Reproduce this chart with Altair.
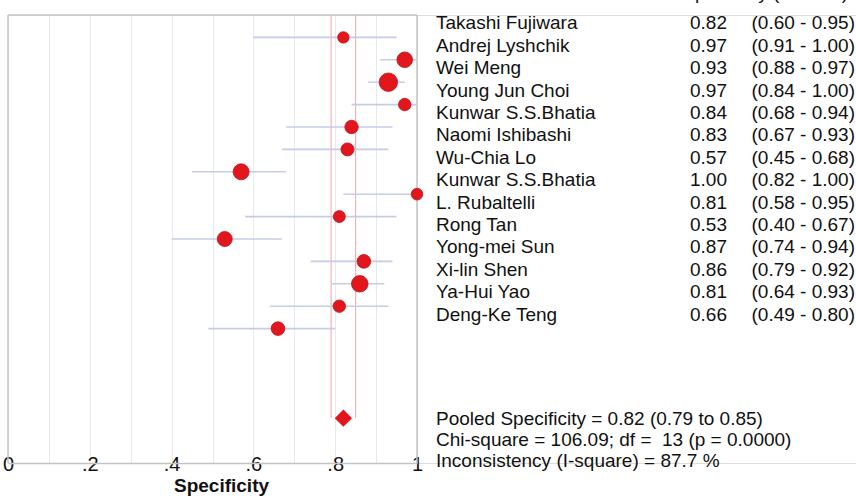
import altair as alt
import pandas as pd

# ---------------- data ----------------
studies = ["Takashi Fujiwara", "Andrej Lyshchik", "Wei Meng", "Young Jun Choi",
           "Kunwar S.S.Bhatia", "Naomi Ishibashi", "Wu-Chia Lo", "Kunwar S.S.Bhatia",
           "L. Rubaltelli", "Rong Tan", "Yong-mei Sun", "Xi-lin Shen", "Ya-Hui Yao",
           "Deng-Ke Teng"]
spec = [0.82, 0.97, 0.93, 0.97, 0.84, 0.83, 0.57, 1.00, 0.81, 0.53, 0.87, 0.86, 0.81, 0.66]
ci_low = [0.60, 0.91, 0.88, 0.84, 0.68, 0.67, 0.45, 0.82, 0.58, 0.40, 0.74, 0.79, 0.64, 0.49]
ci_high = [0.95, 1.00, 0.97, 1.00, 0.94, 0.93, 0.68, 1.00, 0.95, 0.67, 0.94, 0.92, 0.93, 0.80]
weights = [4.7, 8.8, 12.2, 5.6, 6.5, 6.1, 9.2, 4.9, 5.2, 8.1, 6.7, 9.9, 5.6, 6.7]

pooled = [0.82]
pooled_ci = [0.79, 0.85]
stats_lines = ["Pooled Specificity = 0.82 (0.79 to 0.85)",
               "Chi-square = 106.09; df = \u00a013 (p = 0.0000)",
               "Inconsistency (I-square) = 87.7 %"]
header = ["Specificity (95% CI)"]
x_ticks = [0, 0.1, 0.2, 0.3, 0.4, 0.5, 0.6, 0.7, 0.8, 0.9, 1.0]

# ---------------- tables ----------------
n = len(studies)
pooled_row = n + 3
df = pd.DataFrame({
    "study": studies, "spec": spec, "lo": ci_low, "hi": ci_high,
    "w": weights, "row": list(range(n)),
})
df["val"] = df["spec"].map(lambda v: f"{v:.2f}")
df["ci"] = [f"({a:.2f} - {b:.2f})" for a, b in zip(ci_low, ci_high)]

Y_MIN, Y_MAX = -1, n + 5
frame = pd.DataFrame({"x": [0, 1, 0], "x2": [0, 1, 1],
                      "y": [Y_MIN, Y_MIN, Y_MIN], "y2": [Y_MAX, Y_MAX, Y_MIN]})
pooled_lines = pd.DataFrame({"x": pooled_ci, "y": [Y_MIN] * 2, "y2": [pooled_row] * 2})
pooled_df = pd.DataFrame({"x": pooled, "row": [pooled_row]})
stats_df = pd.DataFrame({"t": ["\n".join(stats_lines)], "row": [pooled_row]})
header_df = pd.DataFrame({"t": header})

PLOT_W = 409
xscale = alt.Scale(domain=[0, 1], range=[0, PLOT_W], nice=False, zero=False)
yscale = alt.Scale(domain=[Y_MIN, Y_MAX], reverse=True, nice=False, zero=False)

label_expr = ("datum.value == 0 ? '0' : datum.value == 1 ? '1' : "
              "(round(datum.value * 10) % 2 == 0 ? "
              "replace(format(datum.value, '.1f'), '0.', '.') : '')")

xaxis = alt.Axis(values=x_ticks, grid=True, gridColor="#e8e8f1", gridWidth=1,
                 domain=True, domainColor="#c4c4c4", domainWidth=1.5,
                 ticks=False, tickSize=0, labelPadding=7,
                 labelBaseline="alphabetic", labelFontSize=20, labelColor="#111111",
                 labelExpr=label_expr, labelFlush=False, labelOverlap=False,
                 title="Specificity", titleFontSize=19, titleFontWeight="bold",
                 titleColor="#111111", titleBaseline="alphabetic", titleY=28,
                 titleX=213)


def X(field):
    return alt.X(field, scale=xscale, axis=xaxis)


def Y(field):
    return alt.Y(field, scale=yscale, axis=None)


RED = "#e2161d"
FONT = 19

frame_layer = alt.Chart(frame).mark_rule(color="#c4c4c4", strokeWidth=1.5).encode(
    x=X("x:Q"), x2="x2:Q", y=Y("y:Q"), y2="y2:Q",
)

red_rules = alt.Chart(pooled_lines).mark_rule(color="#f3a3a6", strokeWidth=1).encode(
    x=X("x:Q"), y=Y("y:Q"), y2="y2:Q",
)

ci_rules = alt.Chart(df).mark_rule(color="#c6cce6", strokeWidth=1.6).encode(
    x=X("lo:Q"), x2="hi:Q", y=Y("row:Q"),
)

dots = alt.Chart(df).mark_point(filled=True, shape="circle", color=RED, opacity=1,
                                stroke="#c41018", strokeWidth=0.8).encode(
    x=X("spec:Q"), y=Y("row:Q"),
    size=alt.Size("w:Q", scale=alt.Scale(domain=[0, 100], range=[0, 2773]), legend=None),
)

diamond = alt.Chart(pooled_df).mark_point(filled=True, shape="diamond", color=RED,
                                          opacity=1, size=300).encode(
    x=X("x:Q"), y=Y("row:Q"),
)

text_common = dict(fontSize=FONT, font="Liberation Sans", color="#111111",
                   baseline="alphabetic", dy=-8)

names = alt.Chart(df).mark_text(align="left", **text_common).encode(
    x=alt.value(428), y=Y("row:Q"), text="study:N")
vals = alt.Chart(df).mark_text(align="right", **text_common).encode(
    x=alt.value(719), y=Y("row:Q"), text="val:N")
cis = alt.Chart(df).mark_text(align="right", **text_common).encode(
    x=alt.value(847), y=Y("row:Q"), text="ci:N")

stats = alt.Chart(stats_df).mark_text(align="left", fontSize=FONT, font="Liberation Sans",
                                      color="#111111", baseline="alphabetic", dy=7,
                                      lineBreak="\n", lineHeight=21).encode(
    x=alt.value(428), y=Y("row:Q"), text="t:N")

head = alt.Chart(header_df).mark_text(align="right", fontSize=FONT, font="Liberation Sans",
                                      color="#111111", baseline="alphabetic").encode(
    x=alt.value(840), y=alt.value(-16), text="t:N")

chart = alt.layer(frame_layer, red_rules, ci_rules, dots, diamond, names, vals, cis,
                  stats, head).properties(
    width=848, height=448,
    autosize=alt.AutoSizeParams(type="none"),
    padding={"left": 8, "top": 15, "right": 0, "bottom": 33},
    background="white",
).configure_view(stroke=None).configure(font="Liberation Sans")

chart.save("out.html", embed_options={"renderer": "svg", "actions": False})
